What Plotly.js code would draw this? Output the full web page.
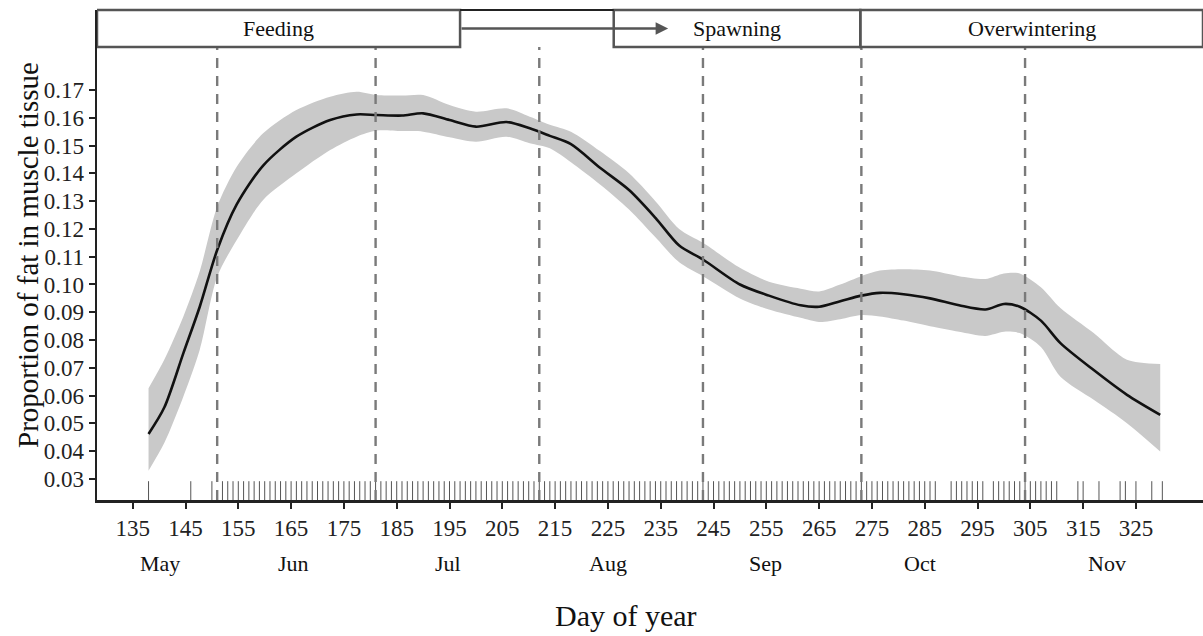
<!DOCTYPE html>
<html>
<head>
<meta charset="utf-8">
<script src="https://cdn.plot.ly/plotly-3.0.1.min.js"></script>
<style>html,body{margin:0;padding:0;background:#fff;}#chart{width:1203px;height:636px;}</style>
</head>
<body>
<div id="chart"></div>
<script>
// Fitted smooth (day of year) with confidence band
const days  = [138, 141, 144.6, 147.7, 151, 154.7, 159.7, 166, 172.4, 177.4, 181.2, 186, 190, 195, 200, 205.8, 210.2, 214, 218, 223.5, 229, 234, 238.5, 243, 250, 255.5, 261.5, 265, 269, 273, 276.5, 281, 286, 291.5, 296.5, 300, 303, 307, 310.7, 317, 323.3, 329.6];
const fit   = [0.0462, 0.0558, 0.0753, 0.0920, 0.1124, 0.1288, 0.1428, 0.1532, 0.1592, 0.1612, 0.1610, 0.1608, 0.1616, 0.1592, 0.1568, 0.1585, 0.1562, 0.1535, 0.1505, 0.1420, 0.1340, 0.1240, 0.1140, 0.1090, 0.1000, 0.0960, 0.0925, 0.0920, 0.0940, 0.0960, 0.0970, 0.0965, 0.0950, 0.0925, 0.0910, 0.0930, 0.0920, 0.0870, 0.0789, 0.0692, 0.0603, 0.0531];
const upper = [0.0627, 0.0730, 0.0885, 0.1048, 0.1280, 0.1424, 0.1544, 0.1628, 0.1676, 0.1694, 0.1682, 0.1680, 0.1682, 0.1646, 0.1622, 0.1634, 0.1604, 0.1575, 0.1550, 0.1480, 0.1400, 0.1300, 0.1200, 0.1150, 0.1060, 0.1010, 0.0985, 0.0975, 0.1000, 0.1030, 0.1050, 0.1055, 0.1050, 0.1030, 0.1020, 0.1040, 0.1040, 0.0990, 0.0915, 0.0825, 0.0729, 0.0714];
const lower = [0.0330, 0.0430, 0.0597, 0.0765, 0.1028, 0.1160, 0.1304, 0.1400, 0.1484, 0.1532, 0.1554, 0.1552, 0.1550, 0.1530, 0.1514, 0.1532, 0.1508, 0.1490, 0.1440, 0.1360, 0.1270, 0.1170, 0.1080, 0.1030, 0.0950, 0.0910, 0.0880, 0.0865, 0.0875, 0.0890, 0.0885, 0.0870, 0.0850, 0.0830, 0.0815, 0.0830, 0.0825, 0.0775, 0.0668, 0.0585, 0.0501, 0.0399];

// Sampling days (rug)
const rugDays = [138, 146, 150].concat(
  Array.from({length: 287 - 152 + 1}, (_, i) => 152 + i),
  [290, 291, 292, 293, 294, 295, 296],
  [298, 299, 300, 301, 302, 303, 304, 305, 306, 307, 308, 309, 310],
  [314, 315, 318, 322, 323, 325, 328, 330]
);

// Month boundaries (dashed lines)
const boundaryDays = [151, 181, 212, 243, 273, 304];

// Month labels
const monthNames = ["May", "Jun", "Jul", "Aug", "Sep", "Oct", "Nov"];
const monthPos   = [140.2, 165.4, 194.8, 225.0, 254.8, 284.1, 319.5];

// Phase boxes
const phaseNames = ["Feeding", "Spawning", "Overwintering"];
const phaseStart = [128.24, 226.1, 272.8];
const phaseEnd   = [197.0, 272.8, 337.7];
const arrowFrom = 197.0, arrowTo = 236.4;

// Axis ticks
const xTicks = [135, 145, 155, 165, 175, 185, 195, 205, 215, 225, 235, 245, 255, 265, 275, 285, 295, 305, 315, 325];
const yTicks = [0.03, 0.04, 0.05, 0.06, 0.07, 0.08, 0.09, 0.10, 0.11, 0.12, 0.13, 0.14, 0.15, 0.16, 0.17];

const xRange = [128.24, 337.7];
const yRange = [0.02244, 0.19879];
const rugY = 0.02568;
const serif = "Liberation Serif, Times New Roman, serif";

const boxBottom = 0.9245; // paper fraction (pixel 47)

const traces = [
  {x: days, y: upper, type: "scatter", mode: "lines", line: {width: 0, shape: "spline", smoothing: 0.8}, hoverinfo: "skip", showlegend: false},
  {x: days, y: lower, type: "scatter", mode: "lines", line: {width: 0, shape: "spline", smoothing: 0.8}, fill: "tonexty", fillcolor: "#c9c9c9", hoverinfo: "skip", showlegend: false},
  {x: days, y: fit, type: "scatter", mode: "lines", line: {color: "#111", width: 2.6, shape: "spline", smoothing: 0.8}, showlegend: false},
  {x: rugDays, y: rugDays.map(() => rugY), type: "scatter", mode: "markers",
   marker: {symbol: "line-ns-open", size: 14, color: "#555", line: {width: 1, color: "#555"}}, showlegend: false}
];

const shapes = [];
boundaryDays.forEach(d => shapes.push({type: "line", xref: "x", yref: "paper", x0: d, x1: d, y0: 0, y1: boxBottom,
  line: {color: "#7a7a7a", width: 2.4, dash: "10px,8px"}, layer: "above"}));
phaseNames.forEach((n, i) => shapes.push({type: "rect", xref: "x", yref: "paper", x0: phaseStart[i], x1: phaseEnd[i], y0: boxBottom, y1: 1,
  line: {color: "#555", width: 2.5}, fillcolor: "rgba(255,255,255,0)"}));
// top connector line between Feeding and Spawning boxes
shapes.push({type: "line", xref: "x", yref: "paper", x0: phaseEnd[0], x1: phaseStart[1], y0: 1, y1: 1, line: {color: "#222", width: 2}});

const annotations = [];
phaseNames.forEach((n, i) => annotations.push({xref: "x", yref: "paper", x: (phaseStart[i] + phaseEnd[i]) / 2, y: (boxBottom + 1) / 2,
  text: n, showarrow: false, font: {family: serif, size: 22, color: "#111"}, xanchor: "center", yanchor: "middle"}));
annotations.push({xref: "x", yref: "paper", axref: "x", ayref: "paper", x: arrowTo, y: (boxBottom + 1) / 2, ax: arrowFrom, ay: (boxBottom + 1) / 2,
  text: "", showarrow: true, arrowhead: 2, arrowsize: 1, arrowwidth: 2.5, arrowcolor: "#555"});
monthNames.forEach((m, i) => annotations.push({xref: "x", yref: "paper", x: monthPos[i], y: -0.129, text: m, showarrow: false,
  font: {family: serif, size: 22, color: "#111"}, xanchor: "center", yanchor: "middle"}));
annotations.push({xref: "paper", yref: "paper", x: (626 - 97) / 1106, y: -0.236, text: "Day of year", showarrow: false,
  font: {family: serif, size: 30, color: "#111"}, xanchor: "center", yanchor: "middle"});
annotations.push({xref: "paper", yref: "paper", x: -0.0624, y: 0.5, text: "Proportion of fat in muscle tissue", showarrow: false, textangle: -90,
  font: {family: serif, size: 29, color: "#111"}, xanchor: "center", yanchor: "middle"});

const layout = {
  width: 1203, height: 636,
  margin: {l: 97, r: 0, t: 10, b: 136, pad: 0},
  paper_bgcolor: "#fff", plot_bgcolor: "#fff",
  showlegend: false,
  xaxis: {range: xRange, tickvals: xTicks, ticktext: xTicks.map(String), ticks: "outside", ticklen: 6, tickwidth: 2, tickcolor: "#222",
    showline: true, linecolor: "#222", linewidth: 2.5, showgrid: false, zeroline: false,
    tickfont: {family: serif, size: 23, color: "#222"}},
  yaxis: {range: yRange, tickvals: yTicks, ticktext: yTicks.map(v => v.toFixed(2)), ticks: "outside", ticklen: 6, tickwidth: 2, tickcolor: "#222",
    showline: true, linecolor: "#222", linewidth: 2.5, showgrid: false, zeroline: false,
    tickfont: {family: serif, size: 23, color: "#222"}},
  shapes: shapes,
  annotations: annotations
};

Plotly.newPlot("chart", traces, layout, {displayModeBar: false, staticPlot: true});
</script>
</body>
</html>
